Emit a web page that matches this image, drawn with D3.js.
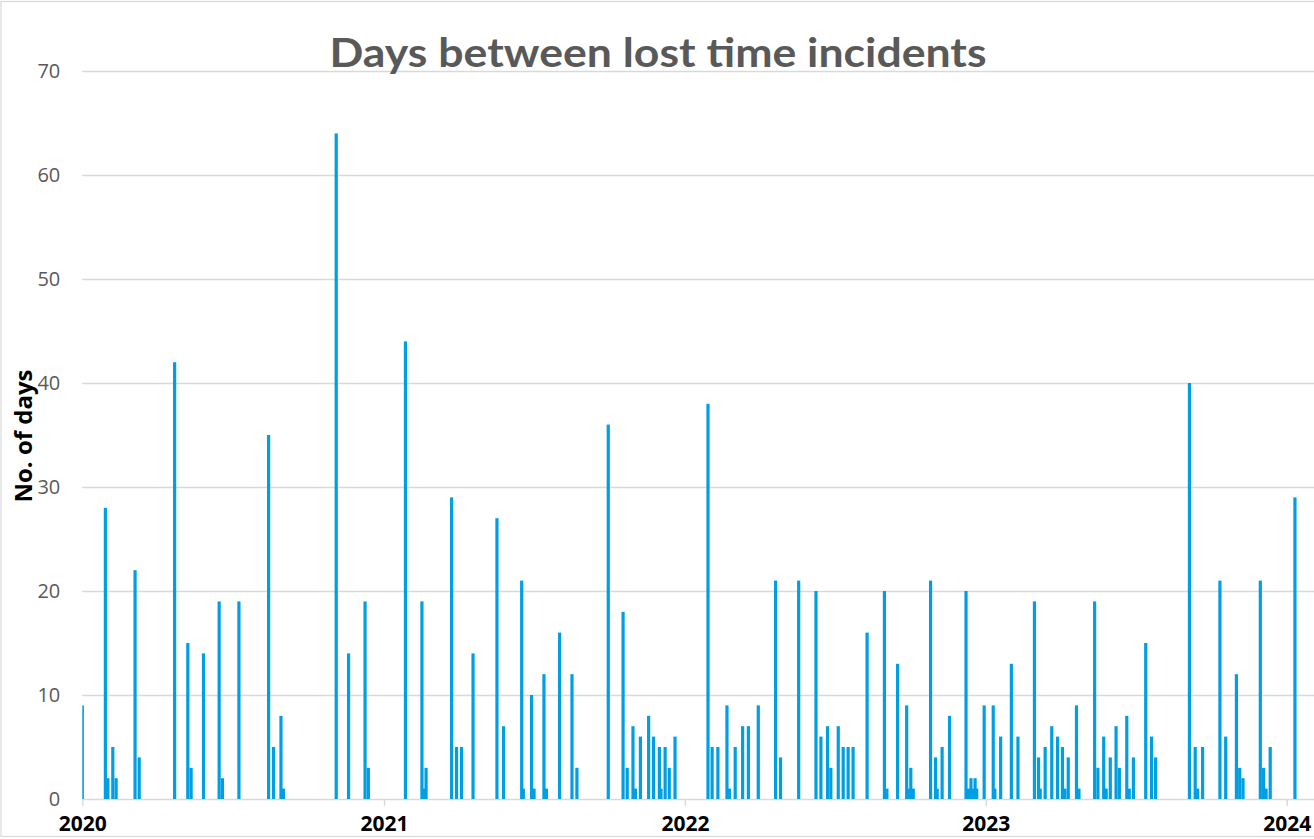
<!DOCTYPE html>
<html>
<head>
<meta charset="utf-8">
<script src="https://cdn.jsdelivr.net/npm/d3@7"></script>
<style>
	body { margin: 0; background: #fff; }
	svg { display: block; font-family: "Open Sans", sans-serif; }
</style>
</head>
<body>
<svg id="chart" width="1314" height="839"></svg>
<script>
/////////////////////////////////////////////////////////
/////////////////-----DATA-----//////////////////////////
/////////////////////////////////////////////////////////
// date of each lost time incident
let incidentDates = [
	"2020-01-01","2020-01-29","2020-02-01","2020-02-07","2020-02-11","2020-03-05","2020-03-10","2020-04-22",
	"2020-05-08","2020-05-12","2020-05-27","2020-06-15","2020-06-19","2020-07-09","2020-08-14","2020-08-20",
	"2020-08-29","2020-09-01","2020-11-04","2020-11-19","2020-12-09","2020-12-13","2021-01-27","2021-02-16",
	"2021-02-18","2021-02-21","2021-03-24","2021-03-30","2021-04-05","2021-04-19","2021-05-18","2021-05-26",
	"2021-06-17","2021-06-19","2021-06-29","2021-07-02","2021-07-14","2021-07-17","2021-08-02","2021-08-17",
	"2021-08-23","2021-09-30","2021-10-18","2021-10-23","2021-10-30","2021-11-02","2021-11-08","2021-11-18",
	"2021-11-24","2021-12-01","2021-12-03","2021-12-08","2021-12-13","2021-12-20","2022-01-29","2022-02-03",
	"2022-02-10","2022-02-21","2022-02-24","2022-03-03","2022-03-12","2022-03-19","2022-03-31","2022-04-21",
	"2022-04-27","2022-05-19","2022-06-09","2022-06-15","2022-06-23","2022-06-27","2022-07-06","2022-07-12",
	"2022-07-18","2022-07-24","2022-08-10","2022-08-31","2022-09-03","2022-09-16","2022-09-27","2022-09-29",
	"2022-10-02","2022-10-05","2022-10-26","2022-11-01","2022-11-03","2022-11-09","2022-11-18","2022-12-08",
	"2022-12-11","2022-12-14","2022-12-16","2022-12-19","2022-12-21","2022-12-30","2023-01-10","2023-01-12",
	"2023-01-19","2023-02-01","2023-02-09","2023-03-01","2023-03-06","2023-03-08","2023-03-14","2023-03-22",
	"2023-03-29","2023-04-04","2023-04-07","2023-04-11","2023-04-21","2023-04-24","2023-05-13","2023-05-17",
	"2023-05-24","2023-05-27","2023-06-01","2023-06-08","2023-06-12","2023-06-21","2023-06-24","2023-06-29",
	"2023-07-14","2023-07-21","2023-07-26","2023-09-05","2023-09-12","2023-09-15","2023-09-21","2023-10-12",
	"2023-10-19","2023-11-01","2023-11-05","2023-11-09","2023-11-30","2023-12-04","2023-12-07","2023-12-12",
	"2024-01-11"
];

// days since the previous incident
let daysBetween = [
	9, 28, 2, 5, 2, 22, 4, 42,
	15, 3, 14, 19, 2, 19, 35, 5,
	8, 1, 64, 14, 19, 3, 44, 19,
	1, 3, 29, 5, 5, 14, 27, 7,
	21, 1, 10, 1, 12, 1, 16, 12,
	3, 36, 18, 3, 7, 1, 6, 8,
	6, 5, 1, 5, 3, 6, 38, 5,
	5, 9, 1, 5, 7, 7, 9, 21,
	4, 21, 20, 6, 7, 3, 7, 5,
	5, 5, 16, 20, 1, 13, 9, 1,
	3, 1, 21, 4, 1, 5, 8, 20,
	1, 2, 1, 2, 1, 9, 9, 1,
	6, 13, 6, 19, 4, 1, 5, 7,
	6, 5, 1, 4, 9, 1, 19, 3,
	6, 1, 4, 7, 3, 8, 1, 4,
	15, 6, 4, 40, 5, 1, 5, 21,
	6, 12, 3, 2, 21, 3, 1, 5,
	29
];

let yearTicks = ["2020-01-01", "2021-01-01", "2022-01-01", "2023-01-01", "2024-01-01"];
let valueTicks = [0, 10, 20, 30, 40, 50, 60, 70];

/////////////////////////////////////////////////////////
/////////////////-----CHART-----/////////////////////////
/////////////////////////////////////////////////////////
let parse = d3.timeParse("%Y-%m-%d");
let items = incidentDates.map(function(d, i) { return {date: parse(d), value: daysBetween[i]}; });

let plot = { left: 82.3, right: 1320, top: 71, bottom: 799 };

let x = d3.scaleTime()
	.domain([parse("2020-01-01"), parse("2024-01-01")])
	.range([82.3, 1286.7]);
let y = d3.scaleLinear().domain([0, 70]).range([plot.bottom, plot.top]);

let svg = d3.select("#chart");

svg.append("rect")
	.attr("x", 1).attr("y", 1.5)
	.attr("width", 1330).attr("height", 835)
	.attr("fill", "#fff").attr("stroke", "#d9d9d9").attr("stroke-width", 1.2);

// y axis + gridlines
let yAxis = svg.append("g")
	.attr("transform", "translate(" + plot.left + ",0)")
	.call(d3.axisLeft(y).tickValues(valueTicks).tickSize(-(plot.right - plot.left)).tickPadding(22));
yAxis.select(".domain").remove();
yAxis.selectAll("line").attr("stroke", "#d9d9d9").attr("stroke-width", 1.4);
yAxis.selectAll("text")
	.attr("fill", "#595959")
	.style("font-size", "20px")
	.style("font-family", "'Open Sans', sans-serif");

// x axis
let xAxis = svg.append("g")
	.attr("transform", "translate(0," + plot.bottom + ")")
	.call(d3.axisBottom(x).tickValues(yearTicks.map(parse)).tickFormat(d3.timeFormat("%Y")).tickSize(7).tickPadding(10));
xAxis.select(".domain").remove();
xAxis.selectAll("line").attr("stroke", "#d9d9d9").attr("stroke-width", 1.4);
xAxis.selectAll("text")
	.attr("fill", "#000")
	.style("font-size", "21px")
	.style("font-weight", "bold")
	.style("font-family", "'Open Sans', sans-serif");

// bars
svg.append("clipPath").attr("id", "plotClip")
	.append("rect")
	.attr("x", plot.left).attr("y", 0)
	.attr("width", plot.right - plot.left).attr("height", plot.bottom);

svg.append("g").attr("clip-path", "url(#plotClip)")
	.selectAll("rect").data(items)
	.enter().append("rect")
	.attr("x", function(d) { return x(d.date) - 1.6; })
	.attr("width", 3.2)
	.attr("y", function(d) { return y(d.value); })
	.attr("height", function(d) { return y(0) - y(d.value); })
	.attr("fill", "#009FE3");

// titles
svg.append("text")
	.attr("x", 658).attr("y", 67)
	.attr("text-anchor", "middle")
	.attr("fill", "#595959")
	.attr("textLength", 657)
	.attr("lengthAdjust", "spacingAndGlyphs")
	.style("font-size", "40px")
	.style("font-weight", "bold")
	.style("font-family", "Lato, sans-serif")
	.text("Days between lost time incidents");

svg.append("text")
	.attr("transform", "translate(32,436) rotate(-90)")
	.attr("text-anchor", "middle")
	.attr("fill", "#000")
	.style("font-size", "24px")
	.style("font-weight", "bold")
	.style("font-family", "'Open Sans', sans-serif")
	.text("No. of days");
</script>
</body>
</html>
